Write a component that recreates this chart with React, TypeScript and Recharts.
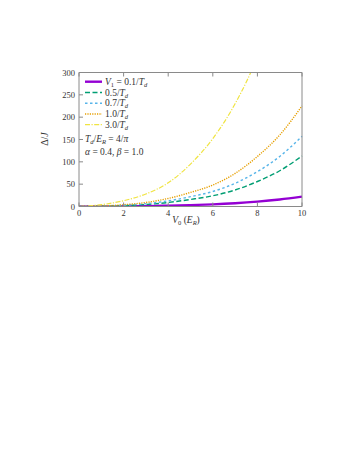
import React from "react";
import { LineChart, Line, XAxis, YAxis } from "recharts";

const V0 = [0, 1, 2, 3, 4, 5, 6, 7, 8, 9, 10];
const d01 = [0, 0.1, 0.4, 0.9, 1.8, 3.1, 4.8, 7.4, 11, 15.8, 22];
const d05 = [0, 0.5, 2, 4.5, 9, 15.8, 24, 37, 56, 80, 113];
const d07 = [0, 0.7, 2.8, 6.3, 12.6, 22, 33.6, 52, 78, 112, 157];
const d10 = [0, 1, 4, 9, 18, 31.5, 48, 74, 112, 160, 225];
const d30 = [0, 4, 13, 28, 53, 95, 152, 230, 335, 480, 675];

const xTicks = [0, 2, 4, 6, 8, 10];
const yTicks = [0, 50, 100, 150, 200, 250, 300];

const data = V0.map((v, i) => ({
  v,
  a: d01[i],
  b: d05[i],
  c: d07[i],
  d: d10[i],
  e: d30[i],
}));

const FONT = "'Liberation Serif', 'DejaVu Serif', serif";
const TXT = "#333";
const FRAME = "#8a8a8a";
const TL = 4;

const BottomTick = (p: any) => (
  <g>
    <line x1={p.x} y1={p.y} x2={p.x} y2={p.y - TL} stroke={FRAME} />
    <text x={p.x} y={p.y + 9} textAnchor="middle" fontSize={8.5} fill={TXT} fontFamily={FONT}>
      {p.payload.value}
    </text>
  </g>
);
const TopTick = (p: any) => (
  <line x1={p.x} y1={p.y} x2={p.x} y2={p.y + TL} stroke={FRAME} />
);
const LeftTick = (p: any) => (
  <g>
    <line x1={p.x} y1={p.y} x2={p.x + TL} y2={p.y} stroke={FRAME} />
    <text x={p.x - 4} y={p.y + 3} textAnchor="end" fontSize={8.5} fill={TXT} fontFamily={FONT}>
      {p.payload.value}
    </text>
  </g>
);
const RightTick = (p: any) => (
  <line x1={p.x} y1={p.y} x2={p.x - TL} y2={p.y} stroke={FRAME} />
);

const series = [
  { key: "a", color: "#9400d3", width: 2.4, dash: undefined as string | undefined, v: "0.1" },
  { key: "b", color: "#009e73", width: 1.4, dash: "5 2.5", v: "0.5" },
  { key: "c", color: "#56b4e9", width: 1.4, dash: "2.5 2.5", v: "0.7" },
  { key: "d", color: "#e69f00", width: 1.4, dash: "1.2 1.2", v: "1.0" },
  { key: "e", color: "#f0e442", width: 1.2, dash: "5 1.5 1.2 1.5", v: "3.0" },
];

const rowY = [73.7, 84.5, 95.2, 106, 116.7];

export default function App() {
  return (
    <div style={{ position: "relative", width: 340, height: 442 }}>
      <LineChart
        width={340}
        height={442}
        data={data}
        margin={{ top: 63.5, right: 45, bottom: 223.5, left: 31 }}
      >
        <XAxis
          dataKey="v"
          type="number"
          domain={[0, 10]}
          ticks={xTicks}
          height={20}
          tickSize={0}
          tickMargin={0}
          tickLine={false}
          axisLine={{ stroke: FRAME }}
          tick={<BottomTick />}
          interval={0}
        />
        <XAxis
          xAxisId="top"
          orientation="top"
          dataKey="v"
          type="number"
          domain={[0, 10]}
          ticks={xTicks}
          height={1}
          tickSize={0}
          tickMargin={0}
          tickLine={false}
          axisLine={{ stroke: FRAME }}
          tick={<TopTick />}
          interval={0}
        />
        <YAxis
          type="number"
          domain={[0, 300]}
          ticks={yTicks}
          allowDataOverflow
          width={40}
          tickSize={0}
          tickMargin={0}
          tickLine={false}
          axisLine={{ stroke: FRAME }}
          tick={<LeftTick />}
          interval={0}
        />
        <YAxis
          yAxisId="right"
          orientation="right"
          type="number"
          domain={[0, 300]}
          ticks={yTicks}
          width={1}
          tickSize={0}
          tickMargin={0}
          tickLine={false}
          axisLine={{ stroke: FRAME }}
          tick={<RightTick />}
          interval={0}
        />
        {series.map((s) => (
          <Line
            key={s.key}
            dataKey={s.key}
            type="monotone"
            stroke={s.color}
            strokeWidth={s.width}
            strokeDasharray={s.dash}
            dot={false}
            isAnimationActive={false}
          />
        ))}
      </LineChart>
      <svg
        width={340}
        height={442}
        style={{ position: "absolute", left: 0, top: 0, pointerEvents: "none" }}
        fontFamily={FONT}
      >
        {series.map((s, i) => (
          <g key={s.key}>
            <line
              x1={77}
              x2={94}
              y1={rowY[i]}
              y2={rowY[i]}
              stroke={s.color}
              strokeWidth={s.width}
              strokeDasharray={s.dash}
            />
            <text x={97} y={rowY[i] + 3.2} fontSize={9.5} fill={TXT}>
              {i === 0 ? (
                <>
                  <tspan fontStyle="italic">V</tspan>
                  <tspan fontSize={6.5} dy={2}>1</tspan>
                  <tspan dy={-2}> = 0.1/</tspan>
                </>
              ) : (
                <tspan>{s.v}/</tspan>
              )}
              <tspan fontStyle="italic">T</tspan>
              <tspan fontSize={6.5} fontStyle="italic" dy={2}>d</tspan>
            </text>
          </g>
        ))}
        <text x={77} y={133.9} fontSize={9.5} fill={TXT}>
          <tspan fontStyle="italic">T</tspan>
          <tspan fontSize={6.5} fontStyle="italic" dy={2}>d</tspan>
          <tspan dy={-2}>/</tspan>
          <tspan fontStyle="italic">E</tspan>
          <tspan fontSize={6.5} fontStyle="italic" dy={2}>R</tspan>
          <tspan dy={-2}> = 4/</tspan>
          <tspan fontStyle="italic">π</tspan>
        </text>
        <text x={77} y={147.2} fontSize={9.5} fill={TXT}>
          <tspan fontStyle="italic">α</tspan>
          <tspan> = 0.4, </tspan>
          <tspan fontStyle="italic">β</tspan>
          <tspan> = 1.0</tspan>
        </text>
        <text
          x={0}
          y={0}
          fontSize={10}
          fill={TXT}
          textAnchor="middle"
          transform="translate(40 131) rotate(-90)"
        >
          <tspan>Δ/</tspan>
          <tspan fontStyle="italic">J</tspan>
        </text>
        <text x={178} y={215} fontSize={9.5} fill={TXT} textAnchor="middle">
          <tspan fontStyle="italic">V</tspan>
          <tspan fontSize={6.5} dy={2}>0</tspan>
          <tspan dy={-2}> (</tspan>
          <tspan fontStyle="italic">E</tspan>
          <tspan fontSize={6.5} fontStyle="italic" dy={2}>R</tspan>
          <tspan dy={-2}>)</tspan>
        </text>
      </svg>
    </div>
  );
}
